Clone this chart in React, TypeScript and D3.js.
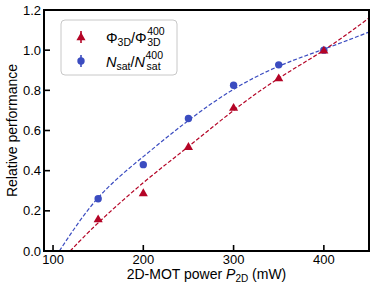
import React from "react";
import * as d3 from "d3";

const powers = [150, 200, 250, 300, 350, 400];
const fluxRatio = [0.16, 0.29, 0.52, 0.715, 0.862, 1.0];
const atomRatio = [0.26, 0.43, 0.66, 0.825, 0.927, 1.0];

// dashed fit curves
const fluxFitP = [119, 150, 200, 250, 300, 350, 400, 450];
const fluxFitV = [0, 0.14, 0.34, 0.52, 0.7, 0.86, 1.0, 1.16];
const atomFitP = [107, 150, 200, 250, 300, 350, 400, 450];
const atomFitV = [0, 0.265, 0.47, 0.65, 0.805, 0.92, 1.005, 1.09];

const xTicks = [100, 200, 300, 400];
const yTicks = [0, 0.2, 0.4, 0.6, 0.8, 1.0, 1.2];

const RED = "#b40426";
const BLUE = "#3b4cc0";
const FONT = "'Liberation Sans', Arial, sans-serif";

const App: React.FC = () => {
  const width = 374;
  const height = 290;
  const left = 44;
  const right = 369;
  const top = 10;
  const bottom = 251;

  const x = d3.scaleLinear().domain([90, 450]).range([left, right]);
  const y = d3.scaleLinear().domain([0, 1.2]).range([bottom, top]);

  const fitLine = d3
    .line<[number, number]>()
    .x((d) => x(d[0]))
    .y((d) => y(d[1]))
    .curve(d3.curveNatural);

  const fluxFit = fitLine(fluxFitP.map((p, i) => [p, fluxFitV[i]]));
  const atomFit = fitLine(atomFitP.map((p, i) => [p, atomFitV[i]]));

  const tri = d3.symbol().type(d3.symbolTriangle).size(36)();

  return (
    <svg
      width={width}
      height={height}
      style={{ position: "absolute", left: 0, top: 0, fontFamily: FONT }}
    >
      <rect width={width} height={height} fill="white" />
      <defs>
        <clipPath id="plot">
          <rect x={left} y={top} width={right - left} height={bottom - top} />
        </clipPath>
      </defs>

      <g clipPath="url(#plot)">
        <path d={atomFit ?? ""} fill="none" stroke={BLUE} strokeWidth={1.2} strokeDasharray="4,2" />
        <path d={fluxFit ?? ""} fill="none" stroke={RED} strokeWidth={1.2} strokeDasharray="4,2" />
        {powers.map((p, i) => (
          <circle key={"a" + i} cx={x(p)} cy={y(atomRatio[i])} r={3.7} fill={BLUE} />
        ))}
        {powers.map((p, i) => (
          <path
            key={"f" + i}
            d={tri ?? ""}
            transform={`translate(${x(p)},${y(fluxRatio[i]) + 0.8})`}
            fill={RED}
          />
        ))}
      </g>

      {/* ticks, inward */}
      {xTicks.map((t) => (
        <g key={"x" + t}>
          <line x1={x(t)} x2={x(t)} y1={bottom} y2={bottom - 6} stroke="black" strokeWidth={1.6} />
          <text x={x(t)} y={264} textAnchor="middle" fontSize={13}>
            {t}
          </text>
        </g>
      ))}
      {yTicks.map((t) => (
        <g key={"y" + t}>
          <line x1={left} x2={left + 6} y1={y(t)} y2={y(t)} stroke="black" strokeWidth={1.6} />
          <text x={41} y={y(t) + 4.6} textAnchor="end" fontSize={13}>
            {t.toFixed(1)}
          </text>
        </g>
      ))}

      <rect
        x={left}
        y={top}
        width={right - left}
        height={bottom - top}
        fill="none"
        stroke="black"
        strokeWidth={2}
      />

      <text x={(left + right) / 2} y={279} textAnchor="middle" fontSize={14}>
        2D-MOT power <tspan fontStyle="italic">P</tspan>
        <tspan fontSize={10} dy={3}>2D</tspan>
        <tspan dy={-3}> (mW)</tspan>
      </text>
      <text
        transform={`translate(17,${(top + bottom) / 2}) rotate(-90)`}
        textAnchor="middle"
        fontSize={14}
      >
        Relative performance
      </text>

      {/* legend */}
      <rect x={61} y={20} width={116} height={55} rx={4} fill="white" stroke="#c8c8c8" strokeWidth={1} />
      <line x1={81} x2={81} y1={31} y2={43} stroke={RED} strokeWidth={1.6} />
      <path d={tri ?? ""} transform="translate(81,37.5)" fill={RED} />
      <line x1={81} x2={81} y1={55} y2={67} stroke={BLUE} strokeWidth={1.6} />
      <circle cx={81} cy={61} r={3.7} fill={BLUE} />

      <text x={106} y={43} fontSize={14.5}>
        Φ<tspan fontSize={10.5} dy={3}>3D</tspan>
        <tspan dy={-3}>/Φ</tspan>
        <tspan fontSize={10.5} dx={0.5} dy={-8}>400</tspan>
        <tspan fontSize={10.5} dx={-17.5} dy={11}>3D</tspan>
      </text>

      <text x={106} y={67} fontSize={14.5}>
        <tspan fontStyle="italic">N</tspan>
        <tspan fontSize={10.5} dy={3}>sat</tspan>
        <tspan dy={-3}>/</tspan>
        <tspan fontStyle="italic">N</tspan>
        <tspan fontSize={10.5} dx={0.5} dy={-8}>400</tspan>
        <tspan fontSize={10.5} dx={-16.5} dy={11}>sat</tspan>
      </text>
    </svg>
  );
};

export default App;
